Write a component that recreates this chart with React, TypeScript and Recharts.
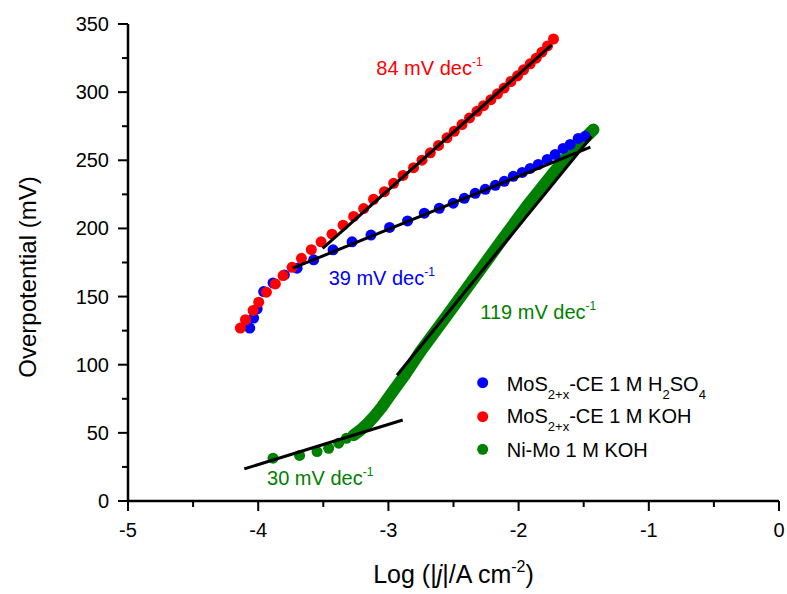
import React from 'react';
import { ScatterChart, Scatter, XAxis, YAxis } from 'recharts';

const FONT = '"Liberation Sans", Arial, Helvetica, sans-serif';

// MoS2+x-CE 1 M H2SO4 (blue)
const blueX = [-4.065, -4.035, -4.008, -3.958, -3.886, -3.799, -3.701, -3.574, -3.425, -3.279, -3.134, -2.991, -2.853, -2.724, -2.609, -2.502, -2.417, -2.333, -2.256, -2.179, -2.110, -2.041, -1.972, -1.911, -1.849, -1.780, -1.719, -1.658, -1.604, -1.542, -1.489];
const blueY = [126.9, 134.2, 141.0, 153.7, 160.0, 165.9, 170.8, 177.0, 184.3, 190.2, 195.1, 200.7, 205.5, 211.2, 214.8, 218.5, 222.1, 225.8, 228.7, 231.6, 234.6, 238.2, 241.1, 244.0, 246.9, 250.6, 254.3, 258.7, 261.6, 266.0, 267.6];

// MoS2+x-CE 1 M KOH (red)
const redX = [-4.137, -4.098, -4.039, -3.996, -3.937, -3.868, -3.809, -3.740, -3.668, -3.592, -3.517, -3.433, -3.348, -3.267, -3.190, -3.114, -3.031, -2.960, -2.888, -2.807, -2.742, -2.678, -2.615, -2.550, -2.494, -2.435, -2.377, -2.320, -2.269, -2.213, -2.162, -2.111, -2.059, -2.008, -1.962, -1.911, -1.865, -1.821, -1.778, -1.732];
const redY = [126.9, 133.0, 139.8, 145.9, 153.2, 159.3, 165.4, 171.5, 178.1, 184.4, 190.2, 195.8, 202.4, 208.8, 214.6, 221.4, 227.0, 233.1, 238.9, 244.6, 250.1, 255.5, 260.9, 266.5, 271.3, 276.2, 281.1, 285.9, 290.1, 294.5, 298.8, 303.0, 307.8, 312.0, 316.4, 320.8, 324.9, 329.3, 333.9, 339.0];

// Ni-Mo 1 M KOH (green): sparse low-current points and the dense high-current band
const greenX = [-3.886, -3.682, -3.548, -3.459, -3.382, -3.323, -3.267];
const greenY = [31.4, 33.4, 36.3, 38.7, 42.4, 46.0, 48.4];
const greenDenseX = [-3.267, -3.215, -3.160, -3.105, -3.050, -2.986, -2.871, -2.756, -2.550, -2.346, -2.141, -1.936, -1.732, -1.579, -1.425];
const greenDenseY = [48.4, 52.0, 56.8, 62.5, 69.0, 77.7, 92.8, 109.4, 136.1, 162.9, 189.8, 216.5, 240.9, 257.9, 272.5];

// Tafel fit lines [start, end]
const fitRedX = [-3.505, -1.746];
const fitRedY = [185.4, 334.7];
const fitBlueX = [-3.735, -1.449];
const fitBlueY = [170.8, 259.6];
const fitGreenHighX = [-2.934, -1.44];
const fitGreenHighY = [92.3, 267.4];
const fitGreenLowX = [-4.107, -2.890];
const fitGreenLowY = [23.6, 59.4];

// Slope annotations
const slopeText = ['84 mV dec', '39 mV dec', '119 mV dec', '30 mV dec'];
const slopeX = [-3.093, -3.459, -2.294, -3.932];
const slopeY = [312.7, 158.8, 133.7, 11.5];
const slopeColor = ['#ff0000', '#0000ff', '#008000', '#008000'];

const xTicks = [-5, -4.5, -4, -3.5, -3, -2.5, -2, -1.5, -1, -0.5, 0];
const yTicks = [0, 25, 50, 75, 100, 125, 150, 175, 200, 225, 250, 275, 300, 325, 350];

const legendColors = ['#0000ff', '#ff0000', '#008000'];

const zip = (xs: number[], ys: number[]) => xs.map((x, i) => ({ x, y: ys[i] }));

const blueData = zip(blueX, blueY);
const redData = zip(redX, redY);
const greenData = zip(greenX, greenY);
const greenDenseData = zip(greenDenseX, greenDenseY);

const isMajor = (v: number) => Math.abs(v - Math.round(v)) < 1e-6;

const XTick = (p: any) => {
  const { x, y, payload } = p;
  const v = payload.value;
  const major = isMajor(v);
  return (
    <g>
      <line x1={x} x2={x} y1={y} y2={y + (major ? 10 : 6)} stroke="#000" strokeWidth={2} />
      {major && (
        <text x={x} y={y + 36} textAnchor="middle" fontSize={20} fontFamily={FONT} fill="#000">
          {String(v)}
        </text>
      )}
    </g>
  );
};

const YTick = (p: any) => {
  const { x, y, payload } = p;
  const v = payload.value;
  const major = v % 50 === 0;
  return (
    <g>
      <line x1={x - (major ? 10 : 6)} x2={x} y1={y} y2={y} stroke="#000" strokeWidth={2} />
      {major && (
        <text x={x - 19} y={y + 7} textAnchor="end" fontSize={20} fontFamily={FONT} fill="#000">
          {String(v)}
        </text>
      )}
    </g>
  );
};

const dot = (color: string) => (p: any) => <circle cx={p.cx} cy={p.cy} r={5.5} fill={color} />;
const noDot = () => <g />;

const slopeLabel = (i: number) => (p: any) => (
  <text x={p.cx} y={p.cy} fill={slopeColor[i]} fontSize={20} fontFamily={FONT}>
    <tspan>{slopeText[i]}</tspan>
    <tspan fontSize={12} dy={-9}>-1</tspan>
  </text>
);

const XTitle = (p: any) => {
  const vb = p.viewBox || { x: 128, width: 651 };
  const cx = vb.x + vb.width / 2;
  return (
    <text x={cx} y={583} textAnchor="middle" fontSize={25} fontFamily={FONT} fill="#000">
      <tspan>Log (|</tspan>
      <tspan fontStyle="italic">j</tspan>
      <tspan>|/A cm</tspan>
      <tspan fontSize={16} dy={-11}>-2</tspan>
      <tspan dy={11}>)</tspan>
    </text>
  );
};

const YTitle = () => (
  <text x={36} y={277} transform="rotate(-90, 36, 277)" textAnchor="middle" fontSize={24} fontFamily={FONT} fill="#000">
    Overpotential (mV)
  </text>
);

const LegendOverlay = () => {
  const rows = [
    { cy: 382.7, base: 390.7 },
    { cy: 416.7, base: 423.3 },
    { cy: 449.3, base: 456.7 },
  ];
  return (
    <svg width={787} height={594} style={{ position: 'absolute', left: 0, top: 0, pointerEvents: 'none' }}>
      {rows.map((r, i) => (
        <circle key={i} cx={482.7} cy={r.cy} r={5.5} fill={legendColors[i]} />
      ))}
      <text x={506.7} y={rows[0].base} fontSize={20} fontFamily={FONT} fill="#000">
        <tspan>MoS</tspan>
        <tspan fontSize={13} dy={8}>2+x</tspan>
        <tspan dy={-8}>-CE 1 M H</tspan>
        <tspan fontSize={13} dy={8}>2</tspan>
        <tspan dy={-8}>SO</tspan>
        <tspan fontSize={13} dy={8}>4</tspan>
      </text>
      <text x={506.7} y={rows[1].base} fontSize={20} fontFamily={FONT} fill="#000">
        <tspan>MoS</tspan>
        <tspan fontSize={13} dy={8}>2+x</tspan>
        <tspan dy={-8}>-CE 1 M KOH</tspan>
      </text>
      <text x={506.7} y={rows[2].base} fontSize={20} fontFamily={FONT} fill="#000">
        Ni-Mo 1 M KOH
      </text>
    </svg>
  );
};

export default function App() {
  return (
    <div style={{ position: 'absolute', left: 0, top: 0, width: 787, height: 594, background: '#fff' }}>
      <ScatterChart width={787} height={594} margin={{ top: 24, right: 8, bottom: 0, left: 0 }}>
        <XAxis
          type="number"
          dataKey="x"
          domain={[-5, 0]}
          ticks={xTicks}
          interval={0}
          tickSize={0}
          tickMargin={0}
          tickLine={false}
          tick={<XTick />}
          axisLine={{ stroke: '#000', strokeWidth: 2.5 }}
          height={93}
          allowDataOverflow
          label={{ content: <XTitle /> }}
        />
        <YAxis
          type="number"
          dataKey="y"
          domain={[0, 350]}
          ticks={yTicks}
          interval={0}
          tickSize={0}
          tickMargin={0}
          tickLine={false}
          tick={<YTick />}
          axisLine={{ stroke: '#000', strokeWidth: 2.5 }}
          width={128}
          allowDataOverflow
          label={{ content: <YTitle /> }}
        />
        <Scatter data={greenData} shape={dot('#008000')} isAnimationActive={false} />
        <Scatter
          data={greenDenseData}
          shape={dot('#008000')}
          line={{ stroke: '#008000', strokeWidth: 12, strokeLinecap: 'round', strokeLinejoin: 'round' }}
          lineType="joint"
          isAnimationActive={false}
        />
        <Scatter data={blueData} shape={dot('#0000ff')} isAnimationActive={false} />
        <Scatter data={redData} shape={dot('#ff0000')} isAnimationActive={false} />
        <Scatter data={zip(fitRedX, fitRedY)} shape={noDot} line={{ stroke: '#000', strokeWidth: 3 }} lineType="joint" isAnimationActive={false} />
        <Scatter data={zip(fitBlueX, fitBlueY)} shape={noDot} line={{ stroke: '#000', strokeWidth: 3 }} lineType="joint" isAnimationActive={false} />
        <Scatter data={zip(fitGreenHighX, fitGreenHighY)} shape={noDot} line={{ stroke: '#000', strokeWidth: 3 }} lineType="joint" isAnimationActive={false} />
        <Scatter data={zip(fitGreenLowX, fitGreenLowY)} shape={noDot} line={{ stroke: '#000', strokeWidth: 3 }} lineType="joint" isAnimationActive={false} />
        {slopeText.map((_, i) => (
          <Scatter key={i} data={[{ x: slopeX[i], y: slopeY[i] }]} shape={slopeLabel(i)} isAnimationActive={false} />
        ))}
      </ScatterChart>
      <LegendOverlay />
    </div>
  );
}
